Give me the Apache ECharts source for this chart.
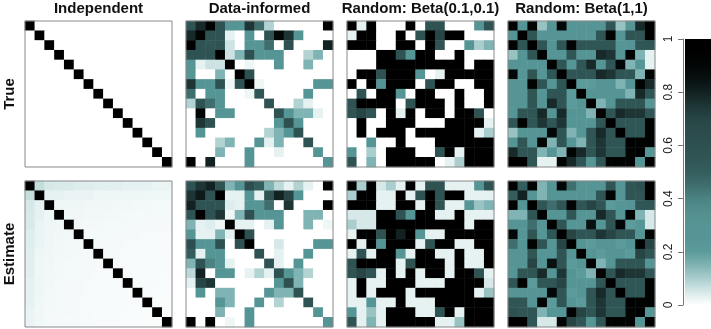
<!DOCTYPE html>
<html><head><meta charset="utf-8">
<script src="https://cdn.jsdelivr.net/npm/echarts@6/dist/echarts.min.js"></script>
<style>html,body{margin:0;padding:0;background:#fff}#c{width:711px;height:329px}</style>
</head><body><div id="c"></div>
<script>
const panelTitles = ['Independent', 'Data-informed', 'Random: Beta(0.1,0.1)', 'Random: Beta(1,1)'];
const rowLabels = ['True', 'Estimate'];
const nodes = ['1','2','3','4','5','6','7','8','9','10','11','12','13','14','15'];
const colorbarTicks = [0, 0.2, 0.4, 0.6, 0.8, 1];

const indepTrue = [
[1,0,0,0,0,0,0,0,0,0,0,0,0,0,0],
[0,1,0,0,0,0,0,0,0,0,0,0,0,0,0],
[0,0,1,0,0,0,0,0,0,0,0,0,0,0,0],
[0,0,0,1,0,0,0,0,0,0,0,0,0,0,0],
[0,0,0,0,1,0,0,0,0,0,0,0,0,0,0],
[0,0,0,0,0,1,0,0,0,0,0,0,0,0,0],
[0,0,0,0,0,0,1,0,0,0,0,0,0,0,0],
[0,0,0,0,0,0,0,1,0,0,0,0,0,0,0],
[0,0,0,0,0,0,0,0,1,0,0,0,0,0,0],
[0,0,0,0,0,0,0,0,0,1,0,0,0,0,0],
[0,0,0,0,0,0,0,0,0,0,1,0,0,0,0],
[0,0,0,0,0,0,0,0,0,0,0,1,0,0,0],
[0,0,0,0,0,0,0,0,0,0,0,0,1,0,0],
[0,0,0,0,0,0,0,0,0,0,0,0,0,1,0],
[0,0,0,0,0,0,0,0,0,0,0,0,0,0,1]];

const indepEst = [
[1,.07,.05,.045,.045,.04,.04,.035,.035,.035,.03,.03,.03,.025,.025],
[.07,1,.03,.03,.025,.025,.025,.02,.02,.02,.02,.02,.018,.018,.018],
[.05,.03,1,.02,.02,.02,.018,.018,.017,.016,.016,.015,.015,.014,.014],
[.045,.03,.02,1,.018,.017,.016,.016,.015,.015,.014,.014,.013,.013,.012],
[.045,.025,.02,.018,1,.016,.015,.015,.014,.014,.013,.013,.012,.012,.011],
[.04,.025,.02,.017,.016,1,.014,.014,.013,.013,.012,.012,.011,.011,.01],
[.04,.025,.018,.016,.015,.014,1,.013,.012,.012,.011,.011,.01,.01,.01],
[.035,.02,.018,.016,.015,.014,.013,1,.012,.011,.011,.01,.01,.009,.009],
[.035,.02,.017,.015,.014,.013,.012,.012,1,.011,.01,.01,.009,.009,.008],
[.035,.02,.016,.015,.014,.013,.012,.011,.011,1,.01,.009,.009,.008,.008],
[.03,.02,.016,.014,.013,.012,.011,.011,.01,.01,1,.009,.008,.008,.007],
[.03,.02,.015,.014,.013,.012,.011,.01,.01,.009,.009,1,.008,.007,.007],
[.03,.018,.015,.013,.012,.011,.01,.01,.009,.009,.008,.008,1,.007,.006],
[.025,.018,.014,.013,.012,.011,.01,.009,.009,.008,.008,.007,.007,1,.006],
[.025,.018,.014,.012,.011,.01,.01,.009,.008,.008,.007,.007,.006,.006,1]];

const dataInfTrue = [
[.58,.78,.95,.58,.3,.3,.75,.45,.09,0,0,0,0,0,.95],
[.78,.92,.58,.58,.03,0,.3,0,.58,.9,.75,.3,0,0,0],
[.95,.58,.55,.58,.06,0,.3,.3,.45,0,.6,0,0,0,.8],
[.58,.58,.58,.95,.06,.15,.6,.3,.3,.3,0,0,.09,.15,0],
[.3,.03,.06,.06,.95,0,.02,0,0,.3,0,0,.15,0,0],
[.3,0,0,.15,0,.95,.6,0,0,0,0,0,0,0,0],
[.75,.3,.3,.6,.02,.6,.95,.02,0,0,0,0,0,.3,.3],
[.45,0,.3,.3,0,0,.02,.55,0,0,0,0,.3,0,0],
[.09,.58,.45,.3,0,0,0,0,.58,0,0,.09,.03,0,0],
[0,.9,0,.3,.3,0,0,0,0,.58,.3,.15,.15,.03,0],
[0,.75,.6,0,0,0,0,0,0,.3,.6,.3,0,0,0],
[0,.3,0,0,0,0,0,0,.09,.15,.3,.58,0,0,0],
[0,0,0,.09,.15,0,0,.3,.03,.15,0,0,.58,0,0],
[0,0,0,.15,0,0,.3,0,0,.03,0,0,0,.3,0],
[.95,0,.8,0,0,0,.3,0,0,0,0,0,0,0,.3]];

const dataInfEst = [
[.58,.75,.8,.58,.15,.3,.62,.5,.15,.08,.03,.09,.03,0,.95],
[.75,.82,.58,.95,.03,.03,.3,.03,.58,.8,.7,.3,0,0,0],
[.8,.58,.58,.58,.04,.03,.3,.3,.45,0,.75,0,0,0,.95],
[.58,.95,.58,.75,.02,.15,.6,.3,.3,.3,0,0,.15,.15,0],
[.15,.03,.04,.02,.95,.03,.03,0,.03,.3,0,0,.15,0,.02],
[.3,.03,.03,.15,.03,.95,.6,0,0,0,0,0,0,0,0],
[.62,.3,.3,.6,0,.6,.95,0,0,.05,0,0,0,.3,.3],
[.5,.03,.3,.3,0,0,0,.58,0,.03,0,0,.3,0,0],
[.15,.58,.4,.3,.03,0,0,0,.58,.03,0,.3,0,0,0],
[.08,.8,0,.3,.3,0,.03,.09,.03,.58,.3,.15,.09,0,0],
[.03,.7,.75,0,0,0,0,0,0,.3,.6,.15,0,0,0],
[0,.3,0,.15,.15,0,0,0,.3,.15,.15,.58,0,0,0],
[0,0,0,.3,.15,0,0,.3,0,.09,0,0,.58,0,0],
[0,0,0,.15,0,0,.3,0,0,0,0,0,0,.3,0],
[.95,0,.95,0,.02,0,.3,0,0,0,0,0,0,0,.3]];

const beta01True = [
[.95,.03,.95,0,0,0,.95,0,.58,.58,0,0,0,.3,.58],
[.03,.95,.95,0,0,.95,0,.58,.95,.7,.95,.95,0,0,0],
[.95,.95,.95,0,0,.95,.95,0,.95,.58,0,0,.3,.1,.15],
[0,0,0,.95,.95,.58,.3,.95,.95,0,0,.95,0,0,0],
[0,0,0,.95,.95,.95,.95,.95,.95,.95,.95,.95,0,.95,.95],
[0,.95,.95,.58,.95,.95,.95,.3,0,.03,.95,.95,.95,.95,.95],
[.95,0,.95,.3,.95,.95,.95,0,.58,.95,.95,0,0,.95,.95],
[0,.58,0,.95,.95,.3,0,.95,.95,0,0,.95,0,0,.95],
[.58,.95,.95,.95,.95,0,.58,.95,.95,.95,0,.95,0,0,.95],
[.58,.7,.58,0,.95,.03,.95,0,.95,.95,0,.95,.95,.58,0],
[0,.95,0,0,.95,.95,.95,0,0,0,.95,.95,.95,.95,.03],
[0,.95,0,.95,.95,.95,0,.95,.95,.95,.95,.95,.95,.03,.1],
[0,0,.3,0,0,.95,0,0,0,.95,.95,.95,.95,.95,.95],
[.3,0,.1,0,.95,.95,.95,0,0,.58,.95,.03,.95,.95,.95],
[.58,0,.15,0,.95,.95,.95,.95,.95,0,.03,.1,.95,.95,.95]];

const beta01Est = [
[.95,.1,.95,.05,.1,.03,.95,.03,.58,.58,.03,.03,.03,.3,.58],
[.1,.95,.95,.03,.03,.95,.03,.58,.95,.58,.95,.95,.03,.03,.03],
[.95,.95,.95,.03,.03,.95,.95,.03,.95,.58,.03,.03,.3,.12,.15],
[.05,.05,.05,.95,.95,.58,.3,.95,.95,.03,.03,.95,.03,.03,.03],
[.1,.05,.05,.95,.95,.95,.95,.95,.95,.95,.95,.95,.03,.95,.95],
[.03,.95,.95,.58,.95,.8,.95,.3,.03,.03,.95,.95,.95,.95,.95],
[.95,.03,.95,.3,.95,.95,.95,.03,.58,.95,.95,.03,.03,.95,.95],
[.03,.58,.03,.95,.95,.3,.03,.95,.95,.03,.03,.95,.03,.03,.95],
[.58,.95,.95,.95,.95,.03,.58,.95,.95,.95,.03,.95,.03,.03,.95],
[.58,.7,.58,.03,.95,.03,.95,.03,.95,.95,.03,.95,.95,.58,.03],
[.03,.95,.03,.03,.95,.95,.95,.03,.03,.03,.95,.95,.95,.95,.05],
[.03,.95,.03,.95,.95,.95,.03,.95,.95,.95,.95,.95,.95,.03,.12],
[.03,.03,.3,.03,.03,.95,.03,.03,.03,.95,.95,.95,.95,.95,.95],
[.3,.03,.12,.03,.95,.95,.95,.03,.03,.58,.95,.03,.95,.95,.95],
[.58,.03,.15,.03,.95,.95,.95,.95,.95,.03,.03,.12,.95,.95,.95]];

const beta11True = [
[.95,.3,.92,.12,.3,.9,.3,.3,.3,.3,.55,.12,.3,.78,.95],
[.3,.95,.55,.3,.3,.3,.3,.3,.3,.55,.92,.3,.55,.55,.95],
[.92,.55,.95,.55,.3,.55,.92,.55,.55,.55,.55,.3,.3,.55,.55],
[.12,.3,.55,.95,.3,.3,.55,.3,.3,.78,.75,.3,.92,.15,.03],
[.3,.3,.3,.3,.95,.55,.3,.55,.78,.3,.55,.9,.15,.3,.03],
[.9,.3,.55,.3,.55,.95,.55,.55,.55,.78,.75,.55,.55,.15,.92],
[.3,.3,.92,.55,.3,.55,.95,.2,.2,.3,.3,.15,.3,.92,.78],
[.3,.3,.55,.3,.55,.55,.2,.95,.3,.3,.3,.3,.15,.78,.55],
[.3,.3,.55,.3,.78,.55,.2,.3,.95,.15,.3,.55,.55,.55,.3],
[.3,.55,.55,.78,.3,.78,.3,.3,.15,.95,.55,.78,.75,.75,.55],
[.55,.92,.55,.75,.55,.75,.3,.3,.3,.55,.95,.55,.55,.55,.92],
[.12,.3,.3,.3,.9,.55,.15,.3,.55,.78,.55,.95,.55,.55,.92],
[.3,.55,.3,.92,.15,.55,.3,.15,.55,.75,.55,.55,.95,.92,.92],
[.78,.55,.55,.15,.3,.15,.92,.78,.55,.75,.55,.55,.92,.95,.3],
[.95,.95,.55,.03,.03,.92,.78,.55,.3,.55,.92,.92,.92,.3,.95]];

const beta11Est = [
[.95,.5,.92,.15,.3,.9,.45,.3,.3,.3,.55,.3,.55,.6,.95],
[.5,.8,.3,.15,.3,.3,.3,.3,.3,.55,.92,.3,.55,.55,.95],
[.92,.3,.95,.55,.45,.55,.92,.55,.7,.55,.2,.3,.3,.55,.55],
[.15,.15,.55,.95,.3,.3,.55,.3,.3,.78,.55,.3,.92,.15,.05],
[.3,.3,.45,.3,.95,.55,.3,.3,.85,.3,.55,.9,.2,.3,.05],
[.9,.3,.55,.3,.55,.95,.7,.55,.55,.75,.7,.55,.55,.3,.92],
[.45,.3,.92,.55,.3,.7,.95,.25,.2,.3,.3,.2,.3,.92,.7],
[.3,.3,.55,.3,.3,.55,.25,.95,.3,.2,.3,.3,.2,.7,.55],
[.3,.3,.7,.3,.85,.55,.2,.3,.95,.15,.3,.55,.55,.55,.3],
[.3,.55,.55,.78,.3,.75,.3,.2,.15,.95,.55,.78,.75,.75,.55],
[.55,.92,.2,.55,.55,.7,.3,.3,.3,.55,.95,.55,.55,.55,.92],
[.3,.3,.3,.3,.9,.55,.2,.3,.55,.78,.55,.95,.55,.55,.92],
[.55,.55,.3,.92,.2,.55,.3,.2,.55,.75,.55,.55,.95,.92,.92],
[.6,.55,.55,.15,.3,.3,.92,.7,.55,.75,.55,.55,.92,.95,.3],
[.95,.95,.55,.05,.05,.92,.7,.55,.3,.55,.92,.92,.92,.3,.95]];

const matrices = [[indepTrue, dataInfTrue, beta01True, beta11True],
                  [indepEst, dataInfEst, beta01Est, beta11Est]];

// colour ramp 0 -> 1 in steps of 0.05
const palette = ['#ffffff','#d6e8e8','#aacdcd','#80b3b3','#5c9b9b','#569595','#569595','#548f8f',
  '#4b8383','#3f6e6e','#345e5e','#305555','#2e5050','#2c4c4c','#284545','#1e3535','#122121',
  '#081010','#030606','#000000','#000000'];

const panelLeft = [25, 186, 347, 508];
const panelTop = [21, 181];
const panelW = 147, panelH = 146;

const grids = [], xAxes = [], yAxes = [], series = [];
let idx = 0;
for (let r = 0; r < 2; r++) {
  for (let c = 0; c < 4; c++) {
    grids.push({left: panelLeft[c], top: panelTop[r], width: panelW, height: panelH,
      show: true, borderColor: '#8a8a8a', borderWidth: 1, backgroundColor: 'transparent', z: 10});
    xAxes.push({type: 'category', gridIndex: idx, data: nodes, position: 'top',
      name: r === 0 ? panelTitles[c] : '', nameLocation: 'middle', nameGap: 5,
      nameTextStyle: {fontFamily: 'Liberation Sans, Arial', fontWeight: 'bold', fontSize: 15, color: '#111', verticalAlign: 'bottom'},
      axisLine: {show: false}, axisTick: {show: false}, axisLabel: {show: false}, splitLine: {show: false}});
    yAxes.push({type: 'category', gridIndex: idx, data: nodes, inverse: true,
      name: c === 0 ? rowLabels[r] : '', nameLocation: 'middle', nameGap: 8, nameRotate: 90,
      nameTextStyle: {fontFamily: 'Liberation Sans, Arial', fontWeight: 'bold', fontSize: 15, color: '#111'},
      axisLine: {show: false}, axisTick: {show: false}, axisLabel: {show: false}, splitLine: {show: false}});
    const m = matrices[r][c];
    const d = [];
    for (let i = 0; i < m.length; i++) for (let j = 0; j < m[i].length; j++) d.push([j, i, m[i][j]]);
    series.push({type: 'heatmap', xAxisIndex: idx, yAxisIndex: idx, data: d,
      itemStyle: {borderWidth: 0}, emphasis: {disabled: true}, progressive: 0, animation: false});
    idx++;
  }
}
// colour bar
grids.push({left: 685, top: 39, width: 26, height: 266, show: false});
xAxes.push({type: 'category', gridIndex: 8, data: ['scale'], show: false});
yAxes.push({type: 'value', gridIndex: 8, min: colorbarTicks[0], max: colorbarTicks[colorbarTicks.length - 1],
  interval: colorbarTicks[1] - colorbarTicks[0], position: 'left', offset: 2,
  axisLine: {show: true, lineStyle: {color: '#777', width: 1}},
  axisTick: {show: true, length: 5, lineStyle: {color: '#777'}},
  axisLabel: {rotate: 90, margin: 8, fontSize: 12, color: '#222', fontFamily: 'Liberation Sans, Arial'},
  splitLine: {show: false}});
series.push({type: 'bar', xAxisIndex: 8, yAxisIndex: 8, data: [colorbarTicks[colorbarTicks.length - 1]],
  barWidth: '100%', silent: true, animation: false,
  itemStyle: {color: new echarts.graphic.LinearGradient(0, 1, 0, 0,
    palette.map((col, k) => ({offset: k / (palette.length - 1), color: col})))}});

const chart = echarts.init(document.getElementById('c'), null, {renderer: 'canvas'});
chart.setOption({
  animation: false,
  grid: grids, xAxis: xAxes, yAxis: yAxes, series: series,
  visualMap: {type: 'continuous', show: false, min: 0, max: 1, seriesIndex: [0,1,2,3,4,5,6,7],
    inRange: {color: palette}}
});
</script></body></html>
